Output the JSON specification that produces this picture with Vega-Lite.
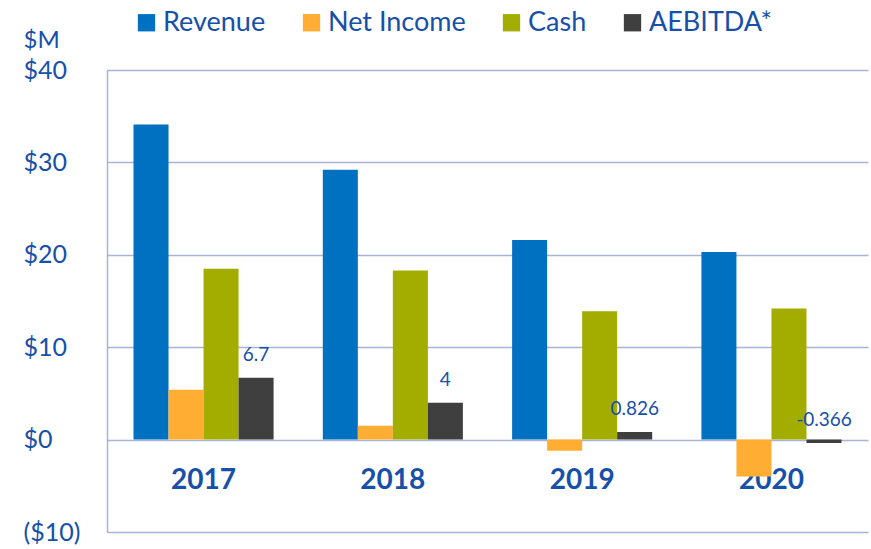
{
  "$schema": "https://vega.github.io/schema/vega-lite/v6.json",
  "autosize": "none",
  "width": 761,
  "height": 462,
  "padding": {"left": 107, "top": 70, "right": 3, "bottom": 17},
  "background": "white",
  "config": {
    "font": "Lato",
    "view": {"stroke": null}
  },
  "data": {
    "values": [
      {"year": "2017", "series": "Revenue", "value": 34.1},
      {"year": "2017", "series": "Net Income", "value": 5.4},
      {"year": "2017", "series": "Cash", "value": 18.5},
      {"year": "2017", "series": "AEBITDA*", "value": 6.7},
      {"year": "2018", "series": "Revenue", "value": 29.2},
      {"year": "2018", "series": "Net Income", "value": 1.5},
      {"year": "2018", "series": "Cash", "value": 18.3},
      {"year": "2018", "series": "AEBITDA*", "value": 4},
      {"year": "2019", "series": "Revenue", "value": 21.6},
      {"year": "2019", "series": "Net Income", "value": -1.2},
      {"year": "2019", "series": "Cash", "value": 13.9},
      {"year": "2019", "series": "AEBITDA*", "value": 0.826},
      {"year": "2020", "series": "Revenue", "value": 20.3},
      {"year": "2020", "series": "Net Income", "value": -4.0},
      {"year": "2020", "series": "Cash", "value": 14.2},
      {"year": "2020", "series": "AEBITDA*", "value": -0.366}
    ]
  },
  "encoding": {
    "x": {
      "field": "year",
      "type": "nominal",
      "scale": {"paddingInner": 0.26, "paddingOuter": 0.14},
      "axis": {
        "title": null,
        "labelAngle": 0,
        "domain": false,
        "ticks": false,
        "labelPadding": -66,
        "labelFontSize": 28,
        "labelFontWeight": "bold",
        "labelColor": "#1650A8",
        "labelBaseline": "top"
      }
    },
    "y": {
      "field": "value",
      "type": "quantitative",
      "scale": {"domain": [-10, 40], "nice": false},
      "axis": {
        "values": [-10, 0, 10, 20, 30, 40],
        "title": "$M",
        "titleAngle": 0,
        "titleAlign": "left",
        "titleBaseline": "middle",
        "titleX": -84,
        "titleY": -30,
        "titleFontSize": 24,
        "titleFontWeight": "normal",
        "titleColor": "#1650A8",
        "labelExpr": "datum.value < 0 ? '($' + abs(datum.value) + ')' : '$' + datum.value",
        "labelAlign": "left",
        "labelPadding": 84,
        "ticks": false,
        "labelFontSize": 25,
        "labelColor": "#1650A8",
        "domainColor": "#A9B3D3",
        "domainWidth": 1.5,
        "gridColor": "#A9B3D3",
        "gridWidth": 1.5
      }
    }
  },
  "layer": [
    {
      "mark": {"type": "bar"},
      "encoding": {
        "xOffset": {
          "field": "series",
          "type": "nominal",
          "sort": ["Revenue", "Net Income", "Cash", "AEBITDA*"],
          "scale": {"paddingInner": 0, "paddingOuter": 0}
        },
        "color": {
          "field": "series",
          "type": "nominal",
          "sort": ["Revenue", "Net Income", "Cash", "AEBITDA*"],
          "scale": {
            "domain": ["Revenue", "Net Income", "Cash", "AEBITDA*"],
            "range": ["#0070C0", "#FFAD33", "#A2AD00", "#3F3F3F"]
          },
          "legend": {
            "title": null,
            "orient": "none",
            "direction": "horizontal",
            "legendX": 26,
            "legendY": -61,
            "symbolType": "square",
            "symbolSize": 300,
            "symbolStrokeWidth": 0,
            "labelFontSize": 27,
            "labelColor": "#1650A8",
            "labelOffset": 3,
            "columnPadding": 32
          }
        }
      }
    },
    {
      "transform": [{"filter": "datum.series === 'AEBITDA*'"}],
      "mark": {"type": "text", "dy": -23, "fontSize": 19, "color": "#1650A8", "baseline": "middle"},
      "encoding": {
        "xOffset": {
          "field": "series",
          "type": "nominal",
          "sort": ["Revenue", "Net Income", "Cash", "AEBITDA*"],
          "scale": {"domain": ["Revenue", "Net Income", "Cash", "AEBITDA*"], "paddingInner": 0, "paddingOuter": 0}
        },
        "text": {"field": "value", "type": "nominal"}
      }
    }
  ]
}
